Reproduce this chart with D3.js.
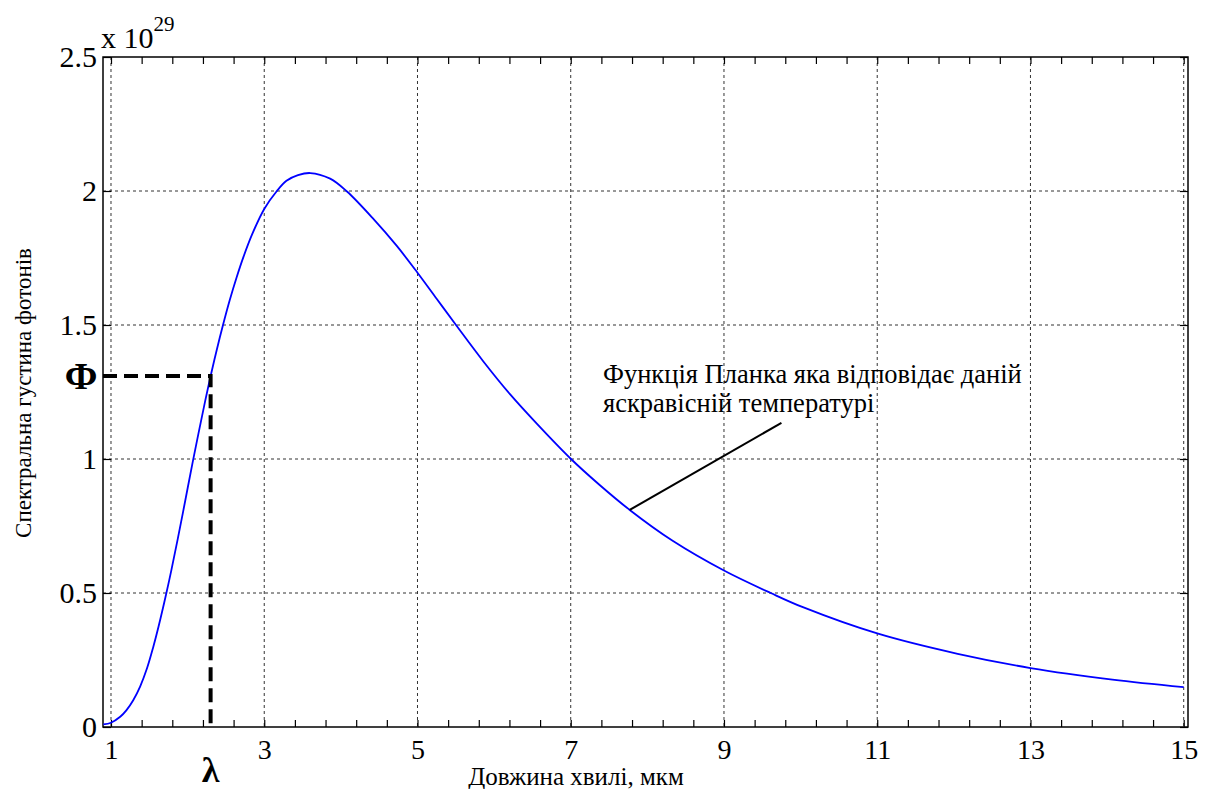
<!DOCTYPE html>
<html>
<head>
<meta charset="utf-8">
<script src="https://cdn.jsdelivr.net/npm/d3@7"></script>
<style>
  body { margin: 0; background: #fff; }
  svg { display: block; font-family: "Liberation Serif", "Times New Roman", serif; }
</style>
</head>
<body>
<svg id="chart" width="1213" height="789"></svg>
<script>
// --- data (wavelength in µm, density in units of 1e29)
const waveX = [0.9, 1.0, 1.12, 1.2, 1.29, 1.38, 1.47, 1.55, 1.62, 1.72, 1.79, 1.87, 1.97, 2.07,
  2.23, 2.31, 2.38, 2.46, 2.55, 2.64, 2.73, 2.84, 3.0, 3.16, 3.29, 3.44, 3.6, 3.86, 4.08,
  4.43, 4.73, 5.0, 5.25, 5.51, 5.86, 6.21, 6.56, 7.0, 7.37, 7.77, 8.33, 9.0, 9.61, 10.03,
  11.0, 12.05, 13.0, 14.07, 15.0];
const density = [0.010, 0.016, 0.038, 0.062, 0.100, 0.151, 0.219, 0.297, 0.374, 0.496, 0.588, 0.700, 0.846, 0.994,
  1.218, 1.322, 1.407, 1.498, 1.593, 1.678, 1.755, 1.837, 1.933, 1.998, 2.038, 2.059, 2.067, 2.046, 1.998,
  1.894, 1.795, 1.695, 1.598, 1.497, 1.364, 1.241, 1.131, 1.001, 0.905, 0.810, 0.695, 0.584, 0.500, 0.447,
  0.349, 0.273, 0.220, 0.177, 0.149];

const xTicks = [1, 3, 5, 7, 9, 11, 13, 15];
const yTicks = [0, 0.5, 1, 1.5, 2, 2.5];
const yTickLabels = ["0", "0.5", "1", "1.5", "2", "2.5"];
const minorStep = 0.4;

const marker = { lambda: 2.30, phi: 1.31 };
const callout = { from: [7.77, 0.81], to: [9.75, 1.135] };
const calloutLines = ["Функція Планка яка відповідає даній", "яскравісній температурі"];

const xTitle = "Довжина хвилі, мкм";
const yTitle = "Спектральна густина фотонів";

// --- layout
const M = { left: 103, top: 57 };
const W = 1085, H = 670;

const svg = d3.select("#chart");
const g = svg.append("g").attr("transform", `translate(${M.left},${M.top})`);

const x = d3.scaleLinear().domain([0.8956, 15.056]).range([0, W]);
const y = d3.scaleLinear().domain([0, 2.5]).range([H, 0]);

// --- grid
const grid = g.append("g").attr("stroke", "#333").attr("stroke-width", 1).attr("stroke-dasharray", "3,3");
grid.selectAll("line.gx").data(xTicks).join("line")
  .attr("x1", d => x(d)).attr("x2", d => x(d)).attr("y1", 0).attr("y2", H);
grid.selectAll("line.gy").data(yTicks.slice(1, -1)).join("line")
  .attr("x1", 0).attr("x2", W).attr("y1", d => y(d)).attr("y2", d => y(d));

// --- ticks (inward on all sides)
const minor = d3.range(1, 15.001, minorStep).map(v => +v.toFixed(2));
const tickStyle = sel => { sel.select(".domain").remove(); sel.selectAll("line").attr("stroke", "#000").attr("stroke-width", 1.2); };

g.append("g").attr("transform", `translate(0,${H})`)
  .call(d3.axisBottom(x).tickValues(minor).tickSize(-7).tickFormat(""))
  .call(tickStyle);
g.append("g")
  .call(d3.axisTop(x).tickValues(minor).tickSize(-7).tickFormat(""))
  .call(tickStyle);
g.append("g")
  .call(d3.axisLeft(y).tickValues(yTicks).tickSize(-8).tickFormat(""))
  .call(tickStyle);
g.append("g").attr("transform", `translate(${W},0)`)
  .call(d3.axisRight(y).tickValues(yTicks).tickSize(-8).tickFormat(""))
  .call(tickStyle);

// --- tick labels
const xLab = g.append("g").attr("transform", `translate(0,${H})`)
  .call(d3.axisBottom(x).tickValues(xTicks).tickSize(0).tickPadding(12).tickFormat(d3.format("d")));
xLab.select(".domain").remove();
xLab.selectAll("text").attr("font-size", 28).attr("font-family", "Liberation Serif").attr("fill", "#000");

const yLab = g.append("g")
  .call(d3.axisLeft(y).tickValues(yTicks).tickSize(0).tickPadding(6).tickFormat((d, i) => yTickLabels[i]));
yLab.select(".domain").remove();
yLab.selectAll("text").attr("font-size", 30).attr("font-family", "Liberation Serif").attr("fill", "#000");

// --- exponent
const expo = g.append("text").attr("x", -2).attr("y", -9).attr("font-size", 30).attr("fill", "#000");
expo.append("tspan").text("x 10");
expo.append("tspan").attr("dy", -17).attr("font-size", 21).text("29");

// --- frame
g.append("rect").attr("width", W).attr("height", H)
  .attr("fill", "none").attr("stroke", "#000").attr("stroke-width", 1.5);

// --- curve
const line = d3.line().x(d => x(d[0])).y(d => y(d[1])).curve(d3.curveCatmullRom.alpha(0.5));
g.append("path").datum(d3.zip(waveX, density))
  .attr("fill", "none").attr("stroke", "#0000ff").attr("stroke-width", 1.8)
  .attr("d", line);

// --- lambda / phi dashed guides
g.append("path")
  .attr("d", `M0,${y(marker.phi)}H${x(marker.lambda)}V${H}`)
  .attr("fill", "none").attr("stroke", "#000").attr("stroke-width", 4)
  .attr("stroke-dasharray", "14,7");

g.append("text").attr("x", -22).attr("y", y(marker.phi)).attr("dy", "0.35em")
  .attr("text-anchor", "middle").attr("font-size", 38).attr("font-weight", "bold").text("Ф");
g.append("text").attr("x", x(marker.lambda)).attr("y", H + 55)
  .attr("text-anchor", "middle").attr("font-size", 36).attr("font-weight", "bold").text("λ");

// --- callout
g.append("line")
  .attr("x1", x(callout.from[0])).attr("y1", y(callout.from[1]))
  .attr("x2", x(callout.to[0])).attr("y2", y(callout.to[1]))
  .attr("stroke", "#000").attr("stroke-width", 2);
const ct = g.append("text").attr("font-size", 26.5).attr("fill", "#000");
calloutLines.forEach((t, i) => {
  ct.append("tspan").attr("x", 500).attr("y", 326 + i * 29).text(t);
});

// --- axis titles
svg.append("text").attr("x", 576).attr("y", 785)
  .attr("text-anchor", "middle").attr("font-size", 25).text(xTitle);
svg.append("text").attr("transform", "translate(31,393) rotate(-90)")
  .attr("text-anchor", "middle").attr("font-size", 23).text(yTitle);
</script>
</body>
</html>
